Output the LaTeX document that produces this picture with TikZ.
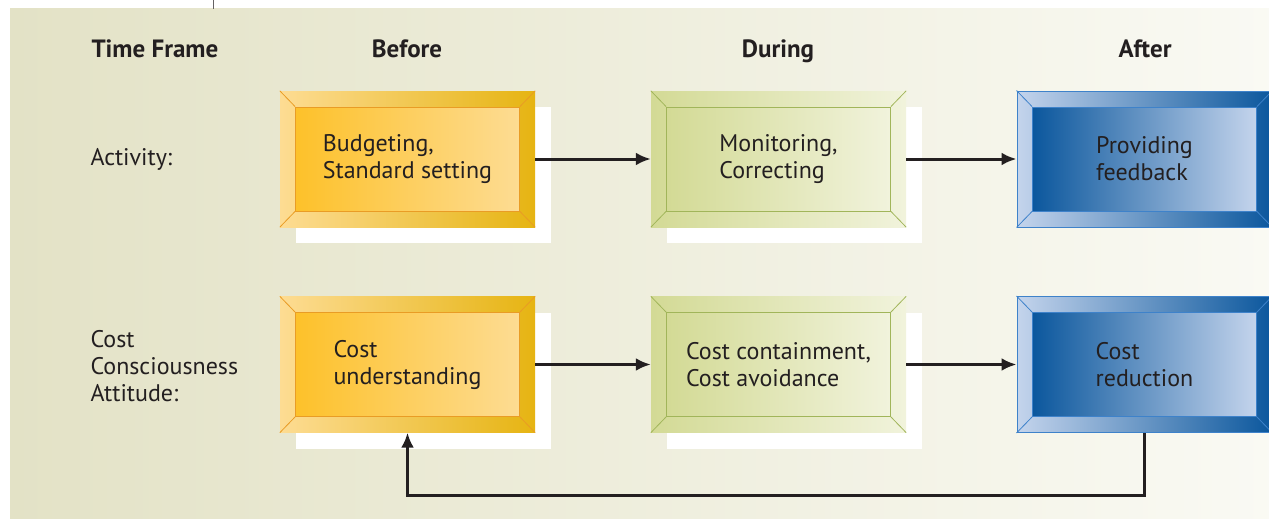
\documentclass[tikz,border=0pt]{standalone}
\usepackage{fontspec}
\setmainfont{PT Sans}
\usetikzlibrary{arrows.meta,calc,shadows}

\definecolor{ink}{HTML}{231F20}
\definecolor{bgleft}{HTML}{E3E2C6}
\definecolor{bgright}{HTML}{FAFAF4}
\definecolor{orangelight}{HTML}{FDDC93}
\definecolor{orangedark}{HTML}{E6B412}
\definecolor{orangeface}{HTML}{FDC12A}
\definecolor{orangeline}{HTML}{E99C25}
\definecolor{greendark}{HTML}{D3DA95}
\definecolor{greenlight}{HTML}{F1F3DC}
\definecolor{greenline}{HTML}{A1B55A}
\definecolor{bluelight}{HTML}{C4D4EC}
\definecolor{bluedark}{HTML}{0B579D}
\definecolor{blueline}{HTML}{3E82CA}

\begin{document}
\begin{tikzpicture}[
  x=1pt, y=-1pt, text=ink,
  font=\fontsize{24}{27}\selectfont,
  head/.style={font=\fontsize{25}{27}\selectfont\bfseries},
  bevel/.style={minimum width=255pt, minimum height=136pt, inner sep=0pt},
  face/.style={minimum width=224pt, minimum height=104pt, inner sep=0pt,
    align=left, line width=0.8pt},
  lift/.style={drop shadow={shadow xshift=16pt, shadow yshift=-16pt,
    fill=white, opacity=1}},
  arr/.style={-{Latex[length=15pt,width=13pt]}, line width=3pt, draw=ink}
]
\useasboundingbox (0,0) rectangle (1269,519);
\fill[left color=bgleft, right color=bgright] (10,9) rectangle (1280,530);
\draw[ink!70, line width=1pt] (213,0) -- (213,9);

% headings
\node[head, anchor=base west] (frame) at (88,58) {Time Frame};
\node[head, anchor=base] (before) at (407,58) {Before};
\node[head, anchor=base] (during) at (778,58) {During};
\node[head, anchor=base] (after) at (1145,58) {After};
\node[anchor=base west] (activity) at (87,165) {Activity:};
\node[anchor=west, align=left] (attitude) at (87,366) {Cost\\Consciousness\\Attitude:};

% boxes
\node[bevel, lift, left color=orangelight, right color=orangedark] (bev-budget) at (407.5,159) {};
\node[face, draw=orangeline, left color=orangeface, right color=orangelight] (budget) at (bev-budget) {Budgeting,\\Standard setting};
\node[bevel, lift, left color=greendark, right color=greenlight] (bev-monitor) at (778.5,159) {};
\node[face, draw=greenline, left color=greendark, right color=greenlight] (monitor) at (bev-monitor) {Monitoring,\\Correcting};
\node[bevel, draw=blueline, line width=1pt, left color=bluelight, right color=bluedark] (bev-feedback) at (1144.5,159) {};
\node[face, draw=blueline, left color=bluedark, right color=bluelight] (feedback) at (bev-feedback) {Providing\\feedback};

\node[bevel, lift, left color=orangelight, right color=orangedark] (bev-understand) at (407.5,364.5) {};
\node[face, draw=orangeline, left color=orangeface, right color=orangelight] (understand) at (bev-understand) {Cost\\understanding};
\node[bevel, lift, left color=greendark, right color=greenlight] (bev-contain) at (778.5,364.5) {};
\node[face, draw=greenline, left color=greendark, right color=greenlight] (contain) at (bev-contain) {Cost containment,\\Cost avoidance};
\node[bevel, draw=blueline, line width=1pt, left color=bluelight, right color=bluedark] (bev-reduction) at (1144.5,364.5) {};
\node[face, draw=blueline, left color=bluedark, right color=bluelight] (reduction) at (bev-reduction) {Cost\\reduction};

% bevel corners
\foreach \b/\c in {budget/orangeline, understand/orangeline, monitor/greenline,
    contain/greenline, feedback/blueline, reduction/blueline}
  \foreach \k in {north west, north east, south west, south east}
    \draw[\c, line width=0.8pt] (bev-\b.\k) -- (\b.\k);

% arrows
\draw[arr] (bev-budget) -- (bev-monitor);
\draw[arr] (bev-monitor) -- (bev-feedback);
\draw[arr] (bev-understand) -- (bev-contain);
\draw[arr] (bev-contain) -- (bev-reduction);
\draw[arr] (bev-reduction.south) -- ++(0,62) -| (bev-understand.south);
\end{tikzpicture}
\end{document}
